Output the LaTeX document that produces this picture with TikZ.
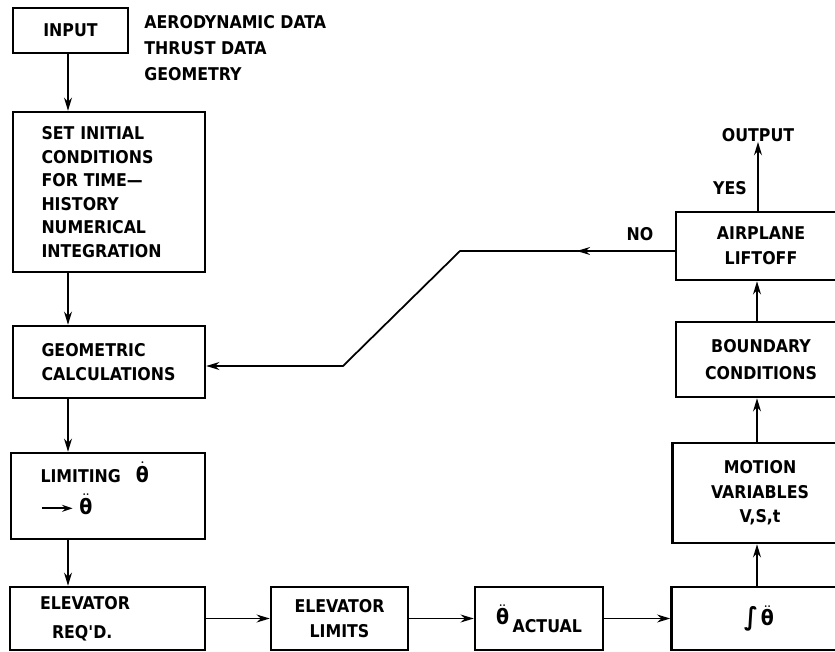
\documentclass[tikz,border=0pt]{standalone}
\usepackage{amsmath}
\usepackage{fontspec}
\setmainfont{DejaVu Sans Condensed}
\usepackage{tikz}
\usetikzlibrary{arrows.meta, positioning, calc, decorations.markings}
\newcommand{\tetad}{\ensuremath{\dot{\text{\large θ}}}}
\newcommand{\tetadd}{\ensuremath{\ddot{\text{\large θ}}}}

\begin{document}
\begin{tikzpicture}[x=0.02cm, y=-0.02cm,
  caixa/.style={draw, line width=1.4pt, inner sep=0pt, align=center,
    font=\bfseries\fontsize{10}{14}\selectfont},
  seta/.style={line width=1pt, -{Stealth[length=7.5pt,width=4.5pt]}},
  rotulo/.style={inner sep=0pt, font=\bfseries\fontsize{10}{14}\selectfont}]
  \useasboundingbox (0,0) rectangle (835,652);
  \clip (0,0) rectangle (835,652);
  % Entrada
  \node[caixa, minimum width=2.3cm, minimum height=0.9cm] (input) at (70.5,30.5) {INPUT};
  \node[rotulo, anchor=west, align=left, font=\bfseries\fontsize{10}{14.8}\selectfont] (dados) at (144,48)
    {AERODYNAMIC DATA\\THRUST DATA\\GEOMETRY};
  % Coluna da esquerda
  \node[caixa, minimum width=3.84cm, minimum height=3.2cm, text width=2.7cm, align=left,
    font=\bfseries\fontsize{10}{13.4}\selectfont] (set) at (109,192)
    {SET INITIAL\\CONDITIONS\\FOR TIME---\\HISTORY\\NUMERICAL\\INTEGRATION};
  \node[caixa, minimum width=3.84cm, minimum height=1.44cm, text width=2.7cm, align=left] (geom) at (109,362)
    {GEOMETRIC\\CALCULATIONS};
  \node[caixa, minimum width=3.88cm, minimum height=1.72cm, text width=2.7cm, align=left] (limit) at (108,496)
    {LIMITING\hspace{0.3cm}\tetad\\[4pt]
     \tikz[baseline=-0.6ex]\draw[line width=1.2pt,-{Stealth[length=6pt,width=4pt]}] (0,0) -- (0.62cm,0);\ \tetadd\\[-5pt]\mbox{}};
  % Linha de baixo
  \node[caixa, minimum width=3.9cm, minimum height=1.26cm, text width=2.7cm, align=left,
    font=\bfseries\fontsize{10}{16.5}\selectfont] (reqd) at (107.5,618.5)
    {ELEVATOR\\\hspace*{0.24cm}REQ\textquotesingle D.};
  \node[caixa, minimum width=2.74cm, minimum height=1.26cm] (limits) at (339.5,618.5)
    {ELEVATOR\\LIMITS};
  \node[caixa, minimum width=2.56cm, minimum height=1.26cm] (actual) at (539,618.5)
    {\tetadd\hspace{2pt}\raisebox{-0.8ex}{ACTUAL}};
  \node[caixa, minimum width=3.5cm, minimum height=1.26cm] (integ) at (759,618.5)
    {{\Large∫}\,\tetadd};
  % Coluna da direita
  \node[caixa, minimum width=3.5cm, minimum height=2cm] (motion) at (760,493)
    {MOTION\\VARIABLES\\V,S,t};
  \node[caixa, minimum width=3.4cm, minimum height=1.5cm, font=\bfseries\fontsize{10}{15.5}\selectfont] (bound) at (761,359.5)
    {BOUNDARY\\CONDITIONS};
  \node[caixa, minimum width=3.4cm, minimum height=1.36cm] (air) at (761,246)
    {AIRPLANE\\LIFTOFF};
  \node[rotulo] (saida) at (758,135) {OUTPUT};
  \node[rotulo] (sim) at (730,188) {YES};
  \node[rotulo] (nao) at (640,234) {NO};
  % Setas
  \coordinate (eixo) at (68,0);
  \coordinate (eixod) at (757,0);
  \draw[seta] (input.south -| eixo) -- (set.north -| eixo);
  \draw[seta] (set.south -| eixo) -- (geom.north -| eixo);
  \draw[seta] (geom.south -| eixo) -- (limit.north -| eixo);
  \draw[seta] (limit.south -| eixo) -- (reqd.north -| eixo);
  \draw[seta] (reqd.east) -- (limits.west);
  \draw[seta] (limits.east) -- (actual.west);
  \draw[seta] (actual.east) -- (integ.west);
  \draw[seta] (integ.north -| eixod) -- (motion.south -| eixod);
  \draw[seta] (motion.north -| eixod) -- (bound.south -| eixod);
  \draw[seta] (bound.north -| eixod) -- (air.south -| eixod);
  \draw[seta] (air.north -| saida) -- (saida.south);
  % Retorno (NO)
  \coordinate (nocima) at (460,251);
  \coordinate (nobaixo) at (343,366);
  \draw[seta, postaction={decorate}, decoration={markings,
      mark=at position 0.19 with {\arrow{Stealth[length=7.5pt,width=4.5pt]}}}]
    (nocima -| air.west) -- (nocima) -- (nobaixo) -- (nobaixo -| geom.east);
\end{tikzpicture}
\end{document}
